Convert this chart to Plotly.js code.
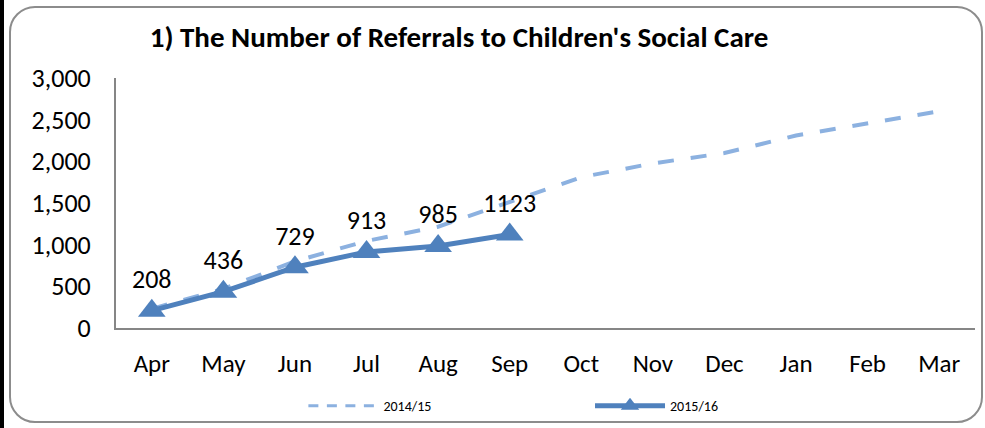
<!DOCTYPE html>
<html>
<head>
<meta charset="utf-8">
<script src="https://cdn.plot.ly/plotly-3.0.1.min.js"></script>
<style>
  html, body { margin: 0; padding: 0; background: #ffffff; }
  #wrap { position: relative; width: 985px; height: 428px; overflow: hidden; }
  #chart { position: absolute; left: 0; top: 0; width: 985px; height: 428px; }
  #frame { position: absolute; left: 9px; top: 6px; width: 970px; height: 413px;
           border: 2px solid #8c8c8c; border-radius: 26px; pointer-events: none; }
  #bar { position: absolute; left: 0; top: 0; width: 4px; height: 428px; background: #000; pointer-events: none; }
</style>
</head>
<body>
<div id="wrap">
  <div id="chart"></div>
  <div id="frame"></div>
  <div id="bar"></div>
</div>
<script>
const months = ["Apr","May","Jun","Jul","Aug","Sep","Oct","Nov","Dec","Jan","Feb","Mar"];
const series1Name = "2014/15";
const series1 = [230, 470, 800, 1045, 1215, 1510, 1810, 1975, 2100, 2310, 2450, 2600];
const series2Name = "2015/16";
const series2Months = ["Apr","May","Jun","Jul","Aug","Sep"];
const series2 = [208, 436, 729, 913, 985, 1123];
const yTicks = [0, 500, 1000, 1500, 2000, 2500, 3000];

const font = "Carlito, 'Liberation Sans', Arial, sans-serif";
const lightBlue = "#8cb1e0";

const traces = [
  {
    x: months, y: series1, name: series1Name, type: "scatter", mode: "lines",
    line: { color: lightBlue, width: 4, dash: "16px,17px" },
    showlegend: false, hoverinfo: "skip"
  },
  {
    // legend entry for 2014/15 (Excel draws a finer dash in its legend key)
    x: [null], y: [null], name: series1Name, type: "scatter", mode: "lines",
    line: { color: lightBlue, width: 3, dash: "10px,8.5px" },
    legend: "legend", hoverinfo: "skip"
  },
  {
    x: series2Months, y: series2, name: series2Name, type: "scatter", mode: "lines+markers+text",
    line: { color: "#4f81bd", width: 5 },
    marker: { symbol: "triangle-up", size: 24, color: "#4f81bd" },
    text: series2.map(String), textposition: "top center",
    textfont: { size: 26, color: "#000000", family: font },
    cliponaxis: false, legend: "legend2"
  }
];

const legendCommon = {
  orientation: "h", yref: "container", xref: "container",
  y: 0.051, yanchor: "middle", xanchor: "left",
  font: { size: 14, family: font, color: "#000000" },
  itemwidth: 70, bgcolor: "rgba(0,0,0,0)"
};

const layout = {
  width: 985, height: 428,
  margin: { l: 116, r: 10, t: 78, b: 100, autoexpand: false },
  paper_bgcolor: "#ffffff", plot_bgcolor: "#ffffff",
  font: { family: font, color: "#000000" },
  title: {
    text: "<b>1) The Number of Referrals to Children's Social Care</b>",
    font: { size: 29, family: font, color: "#000000" },
    xref: "container", yref: "container",
    x: 0.466, xanchor: "center", y: 0.913, yanchor: "middle"
  },
  xaxis: {
    type: "category", categoryorder: "array", categoryarray: months,
    range: [-0.5, 11.5],
    showline: true, linecolor: "#868686", linewidth: 2,
    showgrid: false, zeroline: false, ticks: "",
    tickfont: { size: 25, family: font, color: "#000000" },
    ticklabelstandoff: 12
  },
  yaxis: {
    range: [0, 3000], tickvals: yTicks, ticktext: yTicks.map(v => v.toLocaleString("en-US")),
    showline: true, linecolor: "#868686", linewidth: 2,
    showgrid: false, zeroline: false, ticks: "",
    tickfont: { size: 26, family: font, color: "#000000" },
    ticklabelstandoff: 18
  },
  showlegend: true,
  legend: Object.assign({}, legendCommon, { x: 0.308 }),
  legend2: Object.assign({}, legendCommon, { x: 0.599 })
};

Plotly.newPlot("chart", traces, layout, { displayModeBar: false, staticPlot: true });
</script>
</body>
</html>
